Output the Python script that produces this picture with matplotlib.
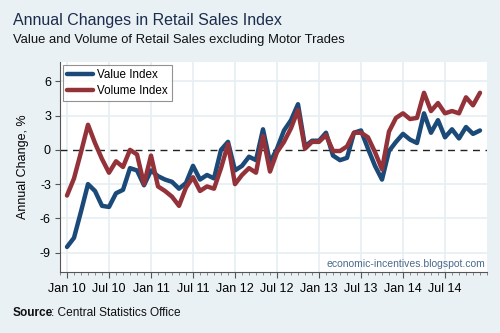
import matplotlib
matplotlib.use("Agg")
import matplotlib.pyplot as plt
from matplotlib.ticker import MultipleLocator

plt.rcParams['font.family'] = ['Liberation Sans', 'DejaVu Sans']

# Monthly annual % changes, Jan 2010 - Dec 2014
months = [f"{m} {y}" for y in range(10, 15)
          for m in ["Jan", "Feb", "Mar", "Apr", "May", "Jun",
                    "Jul", "Aug", "Sep", "Oct", "Nov", "Dec"]]
value_index = [-8.5, -7.7, -5.4, -3.0, -3.6, -4.9, -5.0, -3.8, -3.5, -1.6, -1.8, -3.1,
               -1.8, -2.3, -2.6, -2.8, -3.4, -2.9, -1.4, -2.6, -2.2, -2.5, 0.0, 0.7,
               -1.8, -1.4, -0.6, -0.9, 1.8, -1.1, 0.1, 1.7, 2.6, 4.0, 0.3, 0.8,
               0.8, 1.5, -0.5, -0.9, -0.7, 1.5, 1.7, 0.1, -1.4, -2.6, -0.1, 0.7,
               1.4, 0.9, 0.6, 3.2, 1.5, 2.6, 1.1, 1.8, 1.0, 2.0, 1.4, 1.7]
volume_index = [-4.0, -2.5, -0.2, 2.2, 0.6, -0.8, -2.0, -1.0, -1.5, 0.0, -0.4, -3.0,
                -0.5, -3.2, -3.6, -4.1, -4.9, -3.3, -2.4, -3.6, -3.2, -3.4, -1.6, 0.5,
                -3.0, -2.2, -1.6, -2.0, 1.2, -1.9, -0.2, 0.7, 1.9, 3.5, 0.1, 0.7,
                0.7, 1.3, -0.1, -0.1, 0.3, 1.5, 1.5, 1.1, -0.2, -1.7, 1.6, 2.8,
                3.2, 2.7, 2.8, 5.0, 3.4, 4.1, 3.2, 3.4, 3.2, 4.6, 3.9, 5.0]
y_ticks = [-9, -6, -3, 0, 3, 6]

bg = "#E9F1F4"
grid_c = "#E6EFF3"
blue = "#1B4A78"
red = "#94323A"

fig = plt.figure(figsize=(5, 3.33), dpi=100, facecolor=bg)
ax = fig.add_axes([0.12, 0.183, 0.854, 0.631])
ax.set_facecolor("white")

x = list(range(len(months)))
ax.plot(x, value_index, color=blue, lw=3.2, solid_joinstyle="round",
        solid_capstyle="round", label="Value Index", zorder=3)
ax.plot(x, volume_index, color=red, lw=3.2, solid_joinstyle="round",
        solid_capstyle="round", label="Volume Index", zorder=4)
ax.axhline(0, color="#222222", lw=1.0, ls=(0, (5, 4)), zorder=2)

ax.set_xlim(-1, 60)
ax.set_ylim(-10.7, 7.7)

major = [i for i in x if i % 6 == 0]
ax.set_xticks(major)
ax.set_xticklabels([months[i] for i in major])
ax.xaxis.set_minor_locator(MultipleLocator(1))
ax.set_yticks(y_ticks)
ax.set_yticklabels([str(v) for v in y_ticks])

ax.grid(True, which="major", color=grid_c, lw=1.2, zorder=0)
for gl, v in zip(ax.get_ygridlines(), y_ticks):
    if v == 0:
        gl.set_visible(False)

for s in ["top", "right"]:
    ax.spines[s].set_visible(False)
for s in ["left", "bottom"]:
    ax.spines[s].set_color("#555555")
    ax.spines[s].set_linewidth(0.8)

ax.tick_params(axis="x", which="major", length=4, width=0.8, color="#555555",
               labelsize=9, pad=4)
ax.tick_params(axis="x", which="minor", length=2.5, width=0.6, color="#777777")
ax.tick_params(axis="y", which="major", length=3.5, width=0.8, color="#555555",
               labelsize=9, pad=3)

ax.set_ylabel("Annual Change, %", fontsize=9, labelpad=8)

leg = ax.legend(loc="upper left", fontsize=8.4, frameon=True, fancybox=False,
                handlelength=2.2, borderpad=0.35, labelspacing=0.34,
                handletextpad=0.35, borderaxespad=0.25)
leg.get_frame().set_edgecolor("#777777")
leg.get_frame().set_linewidth(0.8)
for line in leg.get_lines():
    line.set_linewidth(3.2)

ax.text(0.995, 0.015, "economic-incentives.blogspot.com", transform=ax.transAxes,
        ha="right", va="bottom", fontsize=7.5, color="#4A6A8C")

fig.text(13 / 500, 1 - 21 / 333, "Annual Changes in Retail Sales Index",
         fontsize=11.5, color="#1C2C4C", va="center", ha="left")
fig.text(13 / 500, 1 - 40 / 333, "Value and Volume of Retail Sales excluding Motor Trades",
         fontsize=9.4, color="#111111", va="center", ha="left")
src = fig.text(13 / 500, 1 - 313 / 333, "Source", fontsize=8.6, fontweight="bold",
               color="#111111", va="center", ha="left")
fig.canvas.draw()
bb = src.get_window_extent()
fig.text((bb.x1 - 2.5) / fig.bbox.width, 1 - 313 / 333, ": Central Statistics Office",
         fontsize=8.6, color="#111111", va="center", ha="left")

fig.savefig("out.png", dpi=100, facecolor=bg)
